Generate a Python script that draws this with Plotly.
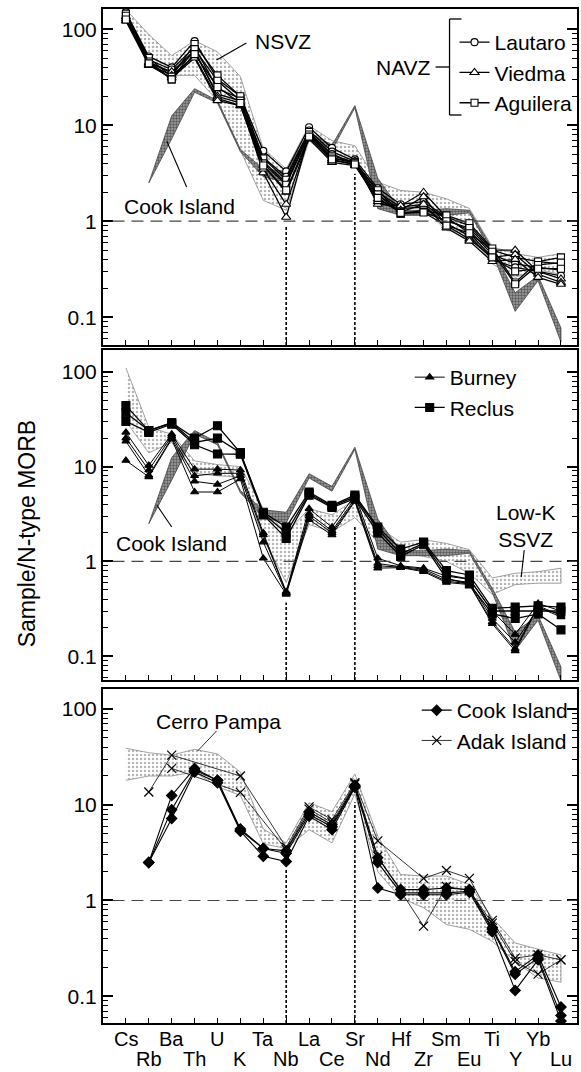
import plotly.graph_objects as go

# ---------------------------------------------------------------- data
elements = ["Cs", "Rb", "Ba", "Th", "U", "K", "Ta", "Nb", "La", "Ce",
            "Sr", "Nd", "Hf", "Zr", "Sm", "Eu", "Ti", "Y", "Yb", "Lu"]
xpos = list(range(len(elements)))

# top panel: NAVZ centres (normalised to N-type MORB)
lautaro_1 = [150, 52, 40, 75, 30, 20, 5.4, 3.3, 9.5, 5.8, 4.4, 2.2, 1.5, 1.6, 1.1, 0.9, 0.5, 0.42, 0.38, 0.36]
lautaro_2 = [140, 48, 38, 65, 24, 19, 4.6, 2.9, 8.8, 5.3, 4.2, 2.0, 1.4, 1.5, 1.05, 0.8, 0.45, 0.36, 0.33, 0.31]
lautaro_3 = [130, 45, 35, 58, 21, 18, 4.2, 2.5, 8.2, 5.0, 4.0, 1.85, 1.35, 1.4, 0.95, 0.7, 0.4, 0.33, 0.3, 0.27]
viedma_1 = [135, 45, 36, 60, 20, 17, 3.2, 1.1, 8.0, 4.5, 4.2, 1.5, 1.45, 2.0, 1.1, 0.75, 0.5, 0.5, 0.3, 0.25]
viedma_2 = [128, 43, 33, 52, 19, 16, 3.5, 1.5, 7.5, 4.3, 3.9, 1.6, 1.3, 1.8, 0.9, 0.65, 0.42, 0.45, 0.28, 0.23]
viedma_3 = [122, 42, 31, 50, 18, 16, 3.8, 2.0, 7.2, 4.1, 3.8, 1.7, 1.25, 1.5, 0.85, 0.62, 0.38, 0.4, 0.26, 0.22]
aguilera_1 = [145, 50, 32, 70, 33, 20, 4.5, 2.7, 8.5, 4.8, 4.1, 2.1, 1.2, 1.3, 1.15, 0.95, 0.52, 0.23, 0.38, 0.42]
aguilera_2 = [138, 46, 30, 62, 29, 18, 4.0, 2.4, 8.0, 4.6, 4.0, 1.9, 1.2, 1.25, 1.0, 0.85, 0.48, 0.22, 0.35, 0.37]
aguilera_3 = [126, 44, 30, 55, 25, 17, 3.8, 2.1, 7.6, 4.4, 3.9, 1.75, 1.22, 1.23, 0.9, 0.75, 0.42, 0.3, 0.32, 0.32]

# NSVZ field
nsvz_upper = [160, 88, 53, 76, 58, 32, 5.7, 3.5, 9.9, 6.9, 6.1, 2.55, 2.09, 2.0, 1.71, 1.36, 0.54, 0.46, 0.42, 0.46]
nsvz_lower = [120, 44, 33, 33, 18, 5.5, 1.65, 1.3, 6.9, 4.3, 4.6, 1.46, 1.4, 1.36, 0.8, 0.74, 0.36, 0.26, 0.31, 0.28]

# middle panel: Burney and Reclus
burney_1 = [23, 10.3, 22, 9.4, 9.4, 9.2, 2.0, 0.48, 3.6, 2.3, 5.0, 1.08, 0.9, 0.85, 0.7, 0.65, 0.3, 0.17, 0.36, 0.3]
burney_2 = [20, 9.2, 21, 8.0, 8.5, 8.5, 1.9, 0.47, 3.2, 2.1, 4.6, 0.95, 0.88, 0.83, 0.65, 0.6, 0.25, 0.14, 0.32, 0.28]
burney_3 = [18.5, 8.1, 20, 7.0, 6.5, 8.0, 1.6, 0.46, 3.0, 2.0, 4.4, 0.9, 0.87, 0.8, 0.62, 0.58, 0.23, 0.12, 0.34, 0.27]
burney_4 = [11.6, 7.8, 19.5, 5.4, 5.4, 7.4, 1.08, 0.45, 2.75, 1.9, 4.3, 0.85, 0.86, 0.78, 0.6, 0.57, 0.22, 0.114, 0.33, 0.26]
reclus_1 = [44, 24, 29, 20, 27, 14, 3.3, 2.3, 5.4, 3.9, 5.0, 2.3, 1.35, 1.6, 0.8, 0.72, 0.32, 0.33, 0.34, 0.33]
reclus_2 = [37, 24, 29, 18, 20, 14, 3.2, 2.0, 5.2, 3.8, 4.8, 2.2, 1.2, 1.55, 0.72, 0.65, 0.3, 0.3, 0.3, 0.3]
reclus_3 = [30, 23, 28, 17, 13.6, 13.5, 3.1, 1.75, 5.0, 3.7, 4.6, 2.0, 1.13, 1.5, 0.66, 0.58, 0.28, 0.25, 0.28, 0.19]

# Low-K SSVZ field
lowk_upper = [110, 26, 22, 11.5, 10.5, 10, 3.6, 2.0, 3.6, 3.1, 4.5, 2.3, 1.6, 1.7, 1.55, 1.33, 0.67, 0.75, 0.78, 0.85]
lowk_lower = [30, 14, 18, 8.5, 8.0, 7.8, 1.75, 0.6, 2.45, 2.06, 2.9, 1.6, 1.27, 1.13, 1.0, 0.75, 0.45, 0.57, 0.59, 0.59]

# bottom panel: Cook Island and Adak Island (no Cs)
cook_1 = [None, 2.5, 12.5, 24, 18, 5.6, 3.5, 3.3, 8.4, 6.2, 16, 2.8, 1.3, 1.3, 1.35, 1.3, 0.52, 0.18, 0.27, 0.077]
cook_2 = [None, 2.5, 8.9, 23, 18, 5.4, 3.5, 3.1, 7.9, 5.9, 15.5, 2.5, 1.2, 1.2, 1.2, 1.25, 0.5, 0.17, 0.25, 0.063]
cook_3 = [None, 2.5, 7.2, 22, 17, 5.3, 2.9, 2.55, 7.6, 5.5, 15.2, 1.35, 1.15, 1.15, 1.15, 1.22, 0.47, 0.115, 0.24, 0.055]
adak_1 = [None, 13.6, 33, None, None, 20, None, 3.6, 9.5, 7.0, 17, 4.2, None, 1.7, 2.06, 1.7, 0.62, 0.25, 0.27, 0.24]
adak_2 = [None, None, 24, None, None, 13.5, None, 3.4, 9.0, 6.5, 16.5, 2.9, None, 0.54, 1.4, 1.27, 0.58, 0.23, 0.17, 0.24]

# Cerro Pampa field
cerro_upper = [39, 35, 33, 38, 34, 22, 5.6, 4.0, 10.5, 8.5, 21, 4.7, 1.87, 1.8, 1.8, 1.47, 0.66, 0.36, 0.31, 0.27]
cerro_lower = [18, 20, 20, 22, 15.5, 12.5, 3.9, 3.5, 5.5, 4.0, 13, 2.0, 1.06, 0.84, 0.56, 0.5, 0.375, 0.23, 0.155, 0.14]

# log10 ranges of the three panels
y_ranges = [[-1.29, 2.21], [-1.25, 2.23], [-1.28, 2.21]]
domains = [[0.6686, 1.0], [0.3383, 0.6637], [0.0, 0.3294]]

FONT = "Liberation Sans, Arial, Helvetica, sans-serif"
W, H = 581, 1072
ML, MR, MT, MB = 103, 2, 9, 49
PW, PH = W - ML - MR, H - MT - MB


def px(xp):
    return (xp - ML) / PW


def py(yp):
    return (H - MB - yp) / PH


fig = go.Figure()


def band_xy(upper, lower):
    idx = [i for i in xpos if upper[i] is not None and lower[i] is not None]
    xs = [xpos[i] for i in idx] + [xpos[i] for i in reversed(idx)]
    ys = [upper[i] for i in idx] + [lower[i] for i in reversed(idx)]
    return xs, ys


def envelope(series):
    hi, lo = [], []
    for i in xpos:
        vals = [s[i] for s in series if s[i] is not None]
        hi.append(max(vals) if vals else None)
        lo.append(min(vals) if vals else None)
    return hi, lo


def add_field(upper, lower, ax, dark=False):
    xs, ys = band_xy(upper, lower)
    if dark:
        patt = dict(shape=".", fgcolor="#111111", bgcolor="#a0a0a0", size=3, solidity=0.5)
        lc = "#444444"
    else:
        patt = dict(shape=".", fgcolor="#6a6a6a", bgcolor="#ffffff", size=4, solidity=0.3)
        lc = "#8a8a8a"
    fig.add_trace(go.Scatter(
        x=xs, y=ys, mode="lines", fill="toself", fillpattern=patt,
        fillcolor="rgba(0,0,0,0)", line=dict(color=lc, width=0.8),
        xaxis="x" + ax, yaxis="y" + ax, showlegend=False, hoverinfo="skip"))


def add_series(vals, ax, symbol, name, legend, show, size=7, width=1.3,
               fill="white", msize_line=1.1, dash="solid"):
    fig.add_trace(go.Scatter(
        x=xpos, y=vals, mode="lines+markers", connectgaps=True,
        line=dict(color="black", width=width, dash=dash),
        marker=dict(symbol=symbol, size=size, color=fill,
                    line=dict(color="black", width=msize_line)),
        name=name, legendgroup=name, showlegend=show, legend=legend,
        xaxis="x" + ax, yaxis="y" + ax, hoverinfo="skip"))


cook_hi, cook_lo = envelope([cook_1, cook_2, cook_3])

# ---- panel 1
add_field(nsvz_upper, nsvz_lower, "")
add_field(cook_hi, cook_lo, "", dark=True)
for i, s in enumerate([lautaro_1, lautaro_2, lautaro_3]):
    add_series(s, "", "circle", "Lautaro", "legend", i == 0)
for i, s in enumerate([viedma_1, viedma_2, viedma_3]):
    add_series(s, "", "triangle-up", "Viedma", "legend", i == 0, size=8)
for i, s in enumerate([aguilera_1, aguilera_2, aguilera_3]):
    add_series(s, "", "square", "Aguilera", "legend", i == 0, size=7)

# ---- panel 2
add_field(lowk_upper, lowk_lower, "2")
add_field(cook_hi, cook_lo, "2", dark=True)
for i, s in enumerate([burney_1, burney_2, burney_3, burney_4]):
    add_series(s, "2", "triangle-up", "Burney", "legend2", i == 0, size=7,
               width=1.0, fill="black")
for i, s in enumerate([reclus_1, reclus_2, reclus_3]):
    add_series(s, "2", "square", "Reclus", "legend2", i == 0, size=8,
               width=1.3, fill="black")

# ---- panel 3
add_field(cerro_upper, cerro_lower, "3")
for i, s in enumerate([cook_1, cook_2, cook_3]):
    add_series(s, "3", "diamond", "Cook Island", "legend3", i == 0, size=8,
               width=1.1, fill="black")
for i, s in enumerate([adak_1, adak_2]):
    add_series(s, "3", "x-thin-open", "Adak Island", "legend3", i == 0, size=9,
               width=0.8, fill="black", msize_line=1.2)

# dotted guides at Nb and Sr, from the panel floor up to just under the data
panel_sets = {
    "": [lautaro_1, lautaro_2, lautaro_3, viedma_1, viedma_2, viedma_3,
         aguilera_1, aguilera_2, aguilera_3, nsvz_lower],
    "2": [burney_1, burney_2, burney_3, burney_4, reclus_1, reclus_2, reclus_3,
          lowk_lower],
    "3": [cook_1, cook_2, cook_3, adak_1, adak_2, cerro_lower],
}
for k, (ax, sets) in enumerate(panel_sets.items()):
    floor = 10 ** y_ranges[k][0]
    for el in ["Nb", "Sr"]:
        i = elements.index(el)
        low = min(s[i] for s in sets if s[i] is not None)
        fig.add_trace(go.Scatter(
            x=[i, i], y=[floor, low * 0.82], mode="lines",
            line=dict(color="black", width=1.6, dash="3px,2px"),
            xaxis="x" + ax, yaxis="y" + ax, showlegend=False, hoverinfo="skip"))

# ---- axes
minor_vals = [m * 10 ** e for e in range(-2, 3) for m in range(2, 10)]
layout_axes = {}
for k in range(3):
    sfx = "" if k == 0 else str(k + 1)
    layout_axes["xaxis" + sfx] = dict(
        domain=[0, 1], anchor="y" + sfx, range=[-1, 19.7],
        tickvals=xpos, ticks="inside", ticklen=5, tickwidth=1, tickcolor="black",
        showticklabels=False, showline=True, linewidth=2, linecolor="black",
        mirror=True, showgrid=False, zeroline=False)
    layout_axes["yaxis" + sfx] = dict(
        domain=domains[k], anchor="x" + sfx, type="log", range=y_ranges[k],
        tickvals=[0.1, 1, 10, 100], ticktext=["0.1", "1", "10", "100"],
        ticks="inside", ticklen=10, tickwidth=1.5, tickcolor="black",
        minor=dict(ticks="inside", ticklen=5, tickwidth=1, tickcolor="black",
                   tickvals=minor_vals, showgrid=False),
        tickfont=dict(size=21, color="black", family=FONT),
        showline=True, linewidth=2, linecolor="black", mirror="ticks",
        showgrid=False, zeroline=False)

shapes = []
# y = 1 reference lines
for k in range(3):
    sfx = "" if k == 0 else str(k + 1)
    shapes.append(dict(type="line", xref="x" + sfx + " domain", yref="y" + sfx,
                       x0=0.02, x1=1, y0=1, y1=1,
                       line=dict(color="#444444", width=1.2, dash="12px,7px")))

# label pointers and NAVZ bracket (paper pixels)
def seg(x0, y0, x1, y1, w=1.1):
    shapes.append(dict(type="line", xref="paper", yref="paper",
                       x0=px(x0), y0=py(y0), x1=px(x1), y1=py(y1),
                       line=dict(color="black", width=w)))

seg(247, 43, 217, 60)          # NSVZ
seg(187, 187, 167, 141)        # Cook Island (top)
seg(172, 527, 157, 505)        # Cook Island (middle)
seg(526, 550, 523, 577)        # Low-K SSVZ
seg(217, 731, 198, 751, 0.8)   # Cerro Pampa
seg(451, 19, 451, 115, 1.3)    # NAVZ bracket
seg(451, 19, 463, 19, 1.3)
seg(451, 115, 463, 115, 1.3)
seg(437, 67, 451, 67, 1.3)

annotations = []


def label(text, x, y, xanchor="left", size=21):
    annotations.append(dict(text=text, xref="paper", yref="paper",
                            x=px(x), y=py(y), xanchor=xanchor, yanchor="middle",
                            showarrow=False,
                            font=dict(size=size, color="black", family=FONT)))


label("NSVZ", 254, 41)
label("Cook Island", 122, 206)
label("Cook Island", 114, 543)
label("Low-K<br>SSVZ", 528, 526, xanchor="center")
label("Cerro Pampa", 154, 722)
label("NAVZ", 434, 68, xanchor="right")

# element names on the bottom axis, in two staggered rows
for i, el in enumerate(elements):
    annotations.append(dict(text=el, xref="x3", yref="paper", x=i,
                            y=py(1039 if i % 2 == 0 else 1059),
                            xanchor="center", yanchor="middle", showarrow=False,
                            font=dict(size=20, color="black", family=FONT)))

# axis title
annotations.append(dict(text="Sample/N-type MORB", xref="paper", yref="paper",
                        x=px(27), y=py(533), xanchor="center", yanchor="middle",
                        textangle=-90, showarrow=False,
                        font=dict(size=23, color="black", family=FONT)))

legend_common = dict(bgcolor="rgba(0,0,0,0)", borderwidth=0,
                     font=dict(size=21, color="black", family=FONT),
                     xanchor="left", yanchor="top", tracegroupgap=0,
                     itemsizing="trace")

fig.update_layout(
    width=W, height=H, autosize=False,
    margin=dict(l=ML, r=MR, t=MT, b=MB),
    paper_bgcolor="white", plot_bgcolor="white",
    font=dict(family=FONT, color="black"),
    showlegend=True,
    legend=dict(x=px(456), y=py(22), **legend_common),
    legend2=dict(x=px(411), y=py(357), **legend_common),
    legend3=dict(x=px(418), y=py(690), **legend_common),
    shapes=shapes, annotations=annotations,
    **layout_axes)

fig.write_html("out.html")
